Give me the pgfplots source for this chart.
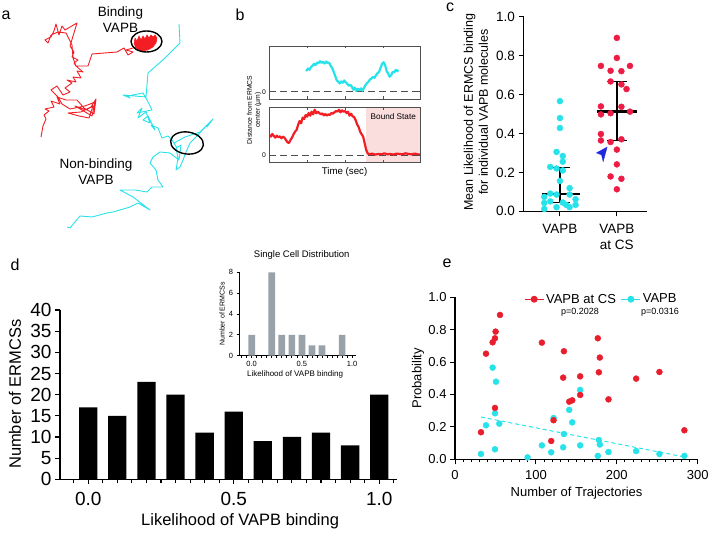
\documentclass[border=0pt]{standalone}
\usepackage{pgfplots}
\pgfplotsset{compat=1.18}
\usepackage{fontspec}
\setmainfont{Liberation Sans}
\definecolor{cyT}{RGB}{40,226,234}
\definecolor{rdT}{RGB}{242,30,36}
\definecolor{rdC}{RGB}{236,28,68}
\definecolor{rdE}{RGB}{232,30,44}
\definecolor{pinkB}{RGB}{250,222,222}
\definecolor{grayI}{RGB}{152,162,168}
\definecolor{blueA}{RGB}{30,40,220}
\definecolor{frameB}{RGB}{80,80,80}
\newcommand{\fs}[2]{\fontsize{#1bp}{#2bp}\selectfont}
\pgfplotsset{every axis/.append style={/pgf/number format/assume math mode=true}}
\begin{document}
\begin{tikzpicture}[x=1bp,y=1bp]
\useasboundingbox (0,0) rectangle (708,533);
% panel letters
\node[font=\fs{16}{19}] at (6,518) {a};
\node[font=\fs{16}{19}] at (240,518) {b};
\node[font=\fs{16}{19}] at (450,526) {c};
\node[font=\fs{16}{19}] at (15,268) {d};
\node[font=\fs{16}{19}] at (447,270) {e};
% ---------------- panel a
\node[font=\fs{13.5}{16}, align=center] at (120.5,513) {Binding\\VAPB};
\node[font=\fs{13.5}{16}, align=center] at (96,361.3) {Non-binding\\VAPB};
\begin{axis}[at={(0bp,273bp)},anchor=south west,scale only axis,width=230bp,height=260bp,
  xmin=0,xmax=230,ymin=0,ymax=260,y dir=reverse,hide axis,clip=false]
\addplot[rdT,line width=0.9bp,line join=round] coordinates {
(41,137) (43,126) (46,119) (44,115) (49,111) (45,109) (54,107) (51,101) (60,104) (57,97)
(66,100) (77,100) (84,108) (94,114) (96,99) (91,107) (81,112) (68,113) (79,116) (89,118)
(93,106) (86,110) (75,106) (92,116) (95,102) (85,106) (70,109) (62,104) (58,97) (51,90)
(57,86) (63,95) (70,92) (65,88) (72,83) (67,80) (76,82) (73,77) (81,78) (77,71)
(83,72) (76,66) (74,63) (78,60) (72,57) (74,52) (70,46) (77,23) (65,30) (62,26)
(59,35) (56,24) (54,31) (51,37) (45,40) (48,43) (51,35) (58,32) (66,33) (72,45)
(73,58) (76,66) (88,66) (92,54) (117,52) (124,48) (128,55) (133,52) (126,50) (140,46) (140,48)};
\addplot[rdT,fill=rdT,line width=0.5bp] coordinates {
(134,44) (135,38) (137,41) (139,36) (141,40) (143,36) (145,39) (147,35) (149,38) (151,35)
(153,37) (155,35) (157,38) (156,43) (153,47) (148,50) (142,51) (137,49)} -- cycle;
\draw[black,line width=1.4bp] (axis cs:146.5,41.5) ellipse [x radius=15.5bp, y radius=10.5bp];
\addplot[cyT,line width=0.9bp,line join=round] coordinates {
(179,24) (180,43) (165,58) (148,73) (147,85) (146,97) (123,95) (130,98) (128,96) (143,93)
(147,100) (152,110) (137,113) (142,108) (138,118) (146,112) (150,123) (143,120) (148,116) (155,130)
(151,125) (158,128) (162,138) (168,136) (172,140) (177,148) (174,143) (185,137) (200,132) (213,119)
(207,127) (210,122) (195,138) (190,143) (186,152) (183,160) (180,167) (176,170) (178,158) (176,148)
(181,145) (179,160) (170,153) (160,152) (153,157) (150,163) (156,170) (158,180) (163,187) (152,187)
(147,192) (135,190) (120,190) (133,197) (150,210) (138,203) (130,207) (113,212) (107,213) (92,217)
(80,216) (70,228) (67,227)};
\draw[black,line width=1.4bp,rotate around={-8:(axis cs:187,143)}] (axis cs:187,143) ellipse [x radius=16.5bp, y radius=11bp];
\end{axis}
% ---------------- panel b
\node[font=\fs{6.8}{8}, align=center, rotate=90] at (254,423) {Distance from ERMCS\\center (µm)};
\begin{axis}[at={(269.3bp,434bp)},anchor=south west,scale only axis,width=151.4bp,height=53bp,
  xmin=0,xmax=100,ymin=-0.22,ymax=1.38,xtick={25,50,75},xticklabels={,,},ytick={0},yticklabels={0},
  tick align=inside,major tick length=2.5bp,axis line style={frameB,line width=0.8bp},
  tick style={frameB,line width=0.6bp},yticklabel style={font=\fs{6.8}{8}},axis on top]
\addplot[black!70,dash pattern=on 7bp off 4bp,line width=0.7bp] coordinates {(0,0) (100,0)};
\addplot[cyT,line width=2.2bp,line join=round] coordinates {
(24.4,0.62) (25.5,0.70) (26.5,0.66) (27.5,0.74) (28.5,0.78) (29.5,0.84) (30.5,0.80) (31.5,0.88)
(32.5,0.86) (33.5,0.92) (34.5,0.87) (35.5,0.90) (36.5,0.85) (37.5,0.91) (38.5,0.86) (39.5,0.88)
(40.5,0.78) (41.5,0.72) (42.5,0.60) (43.5,0.48) (44.5,0.35) (45.5,0.30) (46.5,0.25) (47.5,0.31)
(48.5,0.27) (49.5,0.34) (50.5,0.28) (51.5,0.24) (52.5,0.18) (53.5,0.21) (54.5,0.15) (55.5,0.06)
(56.5,0.12) (57.5,0.02) (58.5,0.09) (59.5,0.04) (60.5,0.10) (61.5,0.03) (62.5,0.11) (63.5,0.20)
(64.5,0.26) (65.5,0.30) (66.5,0.37) (67.5,0.40) (68.5,0.45) (69.5,0.42) (70.5,0.50) (71.5,0.56)
(72.5,0.60) (73.5,0.72) (74.5,0.84) (75.5,0.89) (76.5,0.80) (77.5,0.62) (78.5,0.55) (79.5,0.45)
(80.5,0.50) (81.5,0.60) (82.5,0.58) (83.5,0.66) (84.5,0.62) (85.2,0.66)};
\end{axis}
\begin{axis}[at={(269.3bp,370.7bp)},anchor=south west,scale only axis,width=151.4bp,height=54.6bp,
  xmin=0,xmax=100,ymin=-0.22,ymax=1.42,xtick={25,50,75},xticklabels={,,},ytick={0},yticklabels={0},
  tick align=inside,major tick length=2.5bp,axis line style={frameB,line width=0.8bp},
  tick style={frameB,line width=0.6bp},yticklabel style={font=\fs{6.8}{8}},axis on top,
  xlabel={Time (sec)},xlabel style={font=\fs{9.7}{11},at={(axis description cs:0.497,-0.172)},anchor=center}]
\addplot[fill=pinkB,draw=none] coordinates {(63.9,-0.22) (100,-0.22) (100,1.42) (63.9,1.42)} -- cycle;
\addplot[black!70,dash pattern=on 7bp off 4bp,line width=0.7bp] coordinates {(0,0) (100,0)};
\addplot[rdT,line width=2.2bp,line join=round] coordinates {
(0,0.60) (1,0.55) (2,0.63) (3,0.57) (4,0.52) (5,0.58) (6,0.53) (7,0.56) (8,0.50) (9,0.55)
(10,0.52) (11,0.45) (12,0.38) (13,0.36) (14,0.45) (15,0.52) (16,0.62) (17,0.70) (18,0.75) (19,0.90)
(20,1.02) (21,0.95) (22,1.12) (23,1.08) (24,1.20) (25,1.15) (26,1.26) (27,1.18) (28,1.30) (29,1.22)
(30,1.36) (31,1.25) (32,1.30) (33,1.26) (34,1.22) (35,1.25) (36,1.19) (37,1.23) (38,1.18) (39,1.22)
(40,1.20) (41,1.26) (42,1.24) (43,1.28) (44,1.32) (45,1.30) (46,1.36) (47,1.28) (48,1.34) (49,1.30)
(50,1.32) (51,1.26) (52,1.30) (53,1.18) (54,1.24) (55,1.16) (56,1.14) (57,1.05) (58,0.92) (59,0.84)
(60,0.70) (61,0.62) (62,0.55) (63,0.35) (64,0.15) (65,0.05) (66,0.02) (68,0.04) (70,0.01) (72,0.03)
(74,0.02) (76,0.05) (78,0.02) (80,0.03) (82,0.01) (84,0.04) (86,0.03) (88,0.02) (90,0.05) (92,0.03)
(94,0.02) (96,0.04) (98,0.02) (100,0.01)};
\node[font=\fs{8.2}{10}] at (axis cs:81.9,1.14) {Bound State};
\end{axis}
% ---------------- panel c
\begin{axis}[at={(523.5bp,321.7bp)},anchor=south west,scale only axis,width=123.5bp,height=194.6bp,
  xmin=0.36,xmax=2.53,ymin=0,ymax=1,axis lines=left,axis line style={-,line width=1.2bp},
  xtick={1,2},xticklabels={VAPB,{VAPB\\at CS}},
  xticklabel style={align=center,font=\fs{13.5}{16},yshift=-4bp},
  ytick={0,0.2,0.4,0.6,0.8,1},
  yticklabel style={font=\fs{13.5}{16},/pgf/number format/.cd,fixed,fixed zerofill,precision=1},
  tick align=outside,major tick length=5bp,tick style={black,line width=1bp},
  ylabel={Mean Likelihood of ERMCS binding\\for individual VAPB molecules},
  ylabel style={align=center,font=\fs{12.5}{15},at={(axis description cs:-0.386,0.51)},anchor=center},
  clip=false]
\addplot[only marks,mark=*,mark size=3bp,cyT,mark options={draw=cyT,fill=cyT}] coordinates {
(1.00,0.566) (1.00,0.479) (1.00,0.428) (0.94,0.305) (1.05,0.284) (1.05,0.255) (0.83,0.228) (0.94,0.220)
(1.05,0.210) (1.00,0.156) (1.17,0.119) (0.83,0.091) (0.94,0.086) (1.17,0.086) (0.725,0.074) (1.275,0.062)
(0.83,0.051) (1.05,0.045) (0.725,0.043) (1.11,0.033) (1.275,0.033) (0.94,0.021) (1.17,0.021) (0.725,0.012)};
\addplot[only marks,mark=*,mark size=3bp,rdC,mark options={draw=rdC,fill=rdC}] coordinates {
(2.00,0.891) (2.00,0.788) (1.72,0.747) (2.23,0.747) (1.89,0.722) (2.08,0.720) (1.89,0.667) (2.08,0.652)
(2.17,0.628) (1.72,0.539) (2.08,0.537) (2.23,0.512) (1.89,0.504) (1.72,0.498) (1.72,0.397) (2.08,0.370)
(1.72,0.364) (1.89,0.356) (2.00,0.317) (2.00,0.241) (1.89,0.179) (2.08,0.167) (2.00,0.113)};
\addplot[black,line width=1.3bp] coordinates {(1,0.045) (1,0.224)};
\addplot[black,line width=1.6bp] coordinates {(0.84,0.045) (1.18,0.045)};
\addplot[black,line width=1.6bp] coordinates {(0.84,0.224) (1.18,0.224)};
\addplot[black,line width=2.6bp] coordinates {(0.68,0.088) (1.36,0.088)};
\addplot[black,line width=1.3bp] coordinates {(2,0.364) (2,0.667)};
\addplot[black,line width=1.6bp] coordinates {(1.825,0.364) (2.175,0.364)};
\addplot[black,line width=1.6bp] coordinates {(1.825,0.667) (2.175,0.667)};
\addplot[black,line width=2.6bp] coordinates {(1.65,0.512) (2.35,0.512)};
\addplot[blueA,fill=blueA,line width=0.3bp] coordinates {(1.83,0.33) (1.64,0.30) (1.73,0.29) (1.76,0.255)} -- cycle;
\end{axis}
% ---------------- panel d main
\begin{axis}[at={(60bp,53.7bp)},anchor=south west,scale only axis,width=336.7bp,height=169.3bp,
  xmin=-0.097,xmax=1.06,ymin=0,ymax=40,axis lines=left,axis line style={-,line width=1.4bp},
  xtick={0,0.5,1},minor xtick={-0.05,0.05,0.1,0.15,0.2,0.25,0.3,0.35,0.4,0.45,0.55,0.6,0.65,0.7,0.75,0.8,0.85,0.9,0.95,1.05},
  ytick={0,5,10,15,20,25,30,35,40},
  xticklabel style={font=\fs{19}{22},yshift=-4bp,/pgf/number format/.cd,fixed,fixed zerofill,precision=1},
  yticklabel style={font=\fs{19}{22}},
  tick align=outside,major tick length=5bp,minor tick length=4bp,tick style={black,line width=1.1bp},
  xlabel={Likelihood of VAPB binding},
  xlabel style={font=\fs{16.5}{19},at={(axis description cs:0.535,-0.25)},anchor=center},
  ylabel={Number of ERMCSs},
  ylabel style={font=\fs{16.5}{19},at={(axis description cs:-0.134,0.503)},anchor=center}]
\addplot[ybar,bar width=18.3bp,fill=black,draw=none] coordinates {
(0,17) (0.1,15) (0.2,23) (0.3,20) (0.4,11) (0.5,16) (0.6,9) (0.7,10) (0.8,11) (0.9,8) (1.0,20)};
\end{axis}
% ---------------- panel d inset
\begin{axis}[at={(239bp,177.3bp)},anchor=south west,scale only axis,width=117bp,height=83.4bp,
  xmin=-0.126,xmax=1.038,ymin=0,ymax=8,axis lines=left,axis line style={-,line width=0.9bp},
  xtick={0,0.5,1},minor xtick={-0.1,-0.05,0.05,0.1,0.15,0.2,0.25,0.3,0.35,0.4,0.45,0.55,0.6,0.65,0.7,0.75,0.8,0.85,0.9,0.95},
  ytick={0,2,4,6,8},
  xticklabel style={font=\fs{7.5}{9},/pgf/number format/.cd,fixed,fixed zerofill,precision=1},
  yticklabel style={font=\fs{7.5}{9}},
  tick align=outside,major tick length=2.5bp,minor tick length=2bp,tick style={black,line width=0.8bp},
  xlabel={Likelihood of VAPB binding},
  xlabel style={font=\fs{8}{10},at={(axis description cs:0.479,-0.223)},anchor=center},
  ylabel={Number of ERMCSs},
  ylabel style={font=\fs{7}{8},at={(axis description cs:-0.145,0.5)},anchor=center},
  title={Single Cell Distribution},
  title style={font=\fs{9.5}{11},at={(axis description cs:0.536,1.136)},anchor=center}]
\addplot[ybar,bar width=6.7bp,fill=grayI,draw=none] coordinates {
(0,2) (0.2,8) (0.3,2) (0.4,2) (0.5,2) (0.6,1) (0.7,1) (0.9,2)};
\end{axis}
% ---------------- panel e
\begin{axis}[at={(455bp,73.7bp)},anchor=south west,scale only axis,width=242.7bp,height=162bp,
  xmin=0,xmax=300,ymin=0,ymax=1,axis lines=left,axis line style={-,line width=1.1bp},
  xtick={0,100,200,300},minor x tick num=9,
  ytick={0,0.2,0.4,0.6,0.8,1},
  xticklabel style={font=\fs{13}{15},yshift=-3bp},
  yticklabel style={font=\fs{13}{15},/pgf/number format/.cd,fixed,fixed zerofill,precision=1},
  tick align=outside,major tick length=5bp,minor tick length=3bp,tick style={black,line width=0.9bp},
  xlabel={Number of Trajectories},
  xlabel style={font=\fs{13}{15},at={(axis description cs:0.501,-0.206)},anchor=center},
  ylabel={Probability},
  ylabel style={font=\fs{13}{15},at={(axis description cs:-0.152,0.5)},anchor=center},
  clip=false,
  legend style={draw=none,fill=none,legend columns=2,font=\fs{13}{15},
    at={(axis description cs:0.272,0.988)},anchor=west,
    /tikz/every even column/.append style={column sep=3bp}},
  legend image code/.code={\draw[mark repeat=2,mark phase=2,#1] plot coordinates {(0bp,0bp) (9.5bp,0bp) (19bp,0bp)};}]
\addlegendimage{rdE,line width=0.9bp,mark=*,mark size=3bp,mark options={fill=rdE,draw=rdE}}
\addlegendentry{VAPB at CS}
\addlegendimage{cyT,line width=0.9bp,mark=*,mark size=3bp,mark options={fill=cyT,draw=cyT}}
\addlegendentry{VAPB}
\addplot[cyT,dash pattern=on 4bp off 3bp,line width=1bp,forget plot] coordinates {(32,0.261) (286,0.012)};
\addplot[only marks,mark=*,mark size=3bp,cyT,mark options={draw=cyT,fill=cyT},forget plot] coordinates {
(46.5,0.566) (50.6,0.479) (49.4,0.284) (38.3,0.210) (54.7,0.220) (32.1,0.033) (49.4,0.062) (89.7,0.012)
(107.4,0.086) (118.9,0.043) (121.8,0.255) (133.7,0.074) (134.6,0.156) (141.2,0.305) (144.9,0.228) (154.7,0.086)
(154.7,0.428) (177.8,0.119) (179,0.091) (176.5,0.021) (189.7,0.045) (223.9,0.051) (252.7,0.033) (283.5,0.021)};
\addplot[only marks,mark=*,mark size=3bp,rdE,mark options={draw=rdE,fill=rdE},forget plot] coordinates {
(55.6,0.891) (50.2,0.788) (49.4,0.747) (46.5,0.722) (38.3,0.652) (49.4,0.317) (32.1,0.167) (107.4,0.720)
(134.6,0.667) (133.7,0.504) (154.7,0.512) (154.7,0.397) (141.2,0.356) (144.9,0.364) (121.8,0.241) (118.9,0.113)
(176.5,0.747) (179,0.628) (177.8,0.537) (189.7,0.370) (223.9,0.498) (252.7,0.539) (283.5,0.179)};
\node[font=\fs{9}{11}] at (axis cs:154.5,0.905) {p=0.2028};
\node[font=\fs{9}{11}] at (axis cs:253.4,0.905) {p=0.0316};
\end{axis}
\end{tikzpicture}
\end{document}
